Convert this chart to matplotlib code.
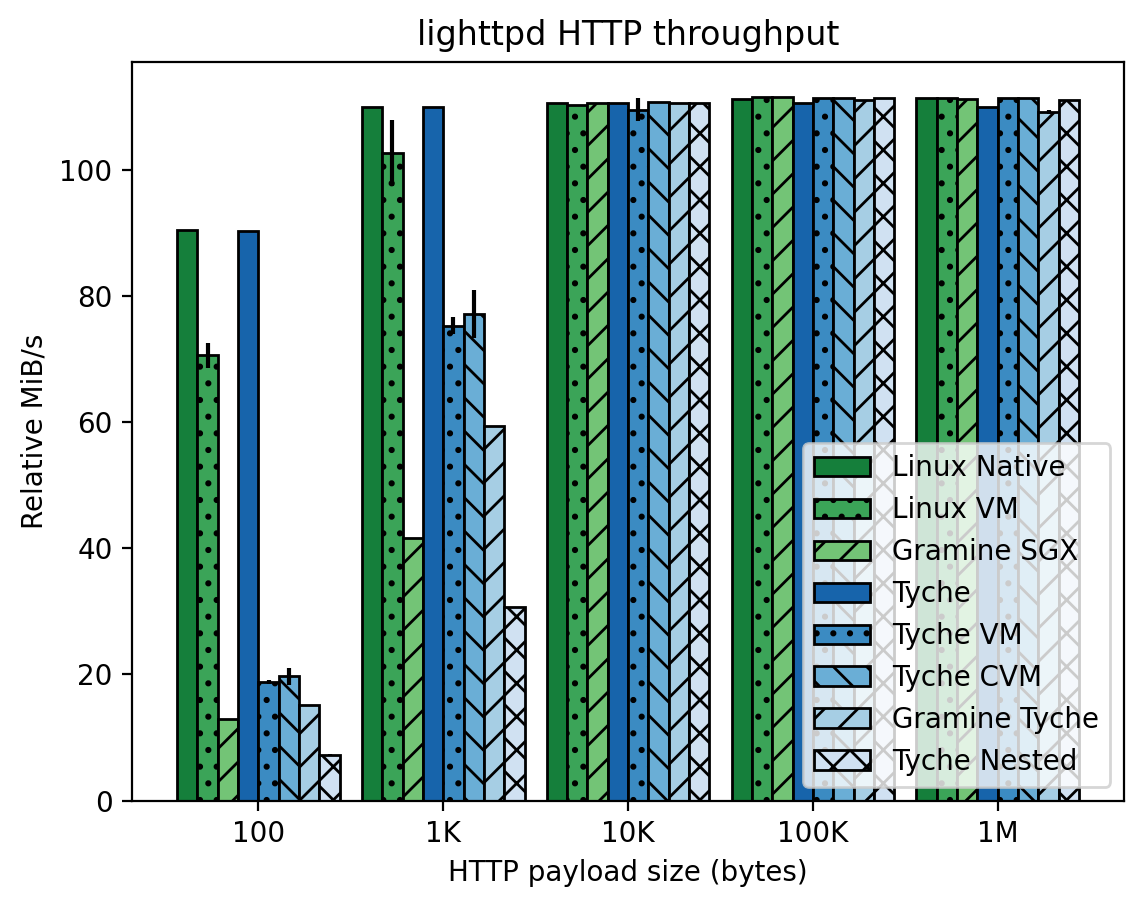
import numpy as np
import matplotlib
matplotlib.use("Agg")
import matplotlib.pyplot as plt
from matplotlib import cm

payload_sizes = ["100", "1K", "10K", "100K", "1M"]
systems = ["Linux Native", "Linux VM", "Gramine SGX", "Tyche",
           "Tyche VM", "Tyche CVM", "Gramine Tyche", "Tyche Nested"]

# MiB/s per system, one value per payload size
linux_native = [90.5, 110.0, 110.6, 111.2, 111.3]
linux_vm = [70.6, 102.7, 110.2, 111.5, 111.3]
gramine_sgx = [13.0, 41.6, 110.6, 111.5, 111.2]
tyche = [90.3, 110.0, 110.6, 110.6, 110.0]
tyche_vm = [18.8, 75.3, 109.5, 111.3, 111.3]
tyche_cvm = [19.7, 77.1, 110.8, 111.3, 111.3]
gramine_tyche = [15.1, 59.4, 110.6, 111.1, 109.2]
tyche_nested = [7.3, 30.7, 110.6, 111.3, 111.0]

# error bar half-heights
linux_native_err = [0.0, 0.0, 0.0, 0.0, 0.0]
linux_vm_err = [2.0, 5.2, 0.0, 0.0, 0.0]
gramine_sgx_err = [0.0, 0.0, 0.0, 0.0, 0.0]
tyche_err = [0.0, 0.0, 0.0, 0.0, 0.0]
tyche_vm_err = [0.3, 1.3, 1.8, 0.0, 0.0]
tyche_cvm_err = [1.3, 3.8, 0.0, 0.0, 0.0]
gramine_tyche_err = [0.0, 0.0, 0.0, 0.0, 0.3]
tyche_nested_err = [0.1, 0.0, 0.0, 0.0, 0.0]

values = [linux_native, linux_vm, gramine_sgx, tyche,
          tyche_vm, tyche_cvm, gramine_tyche, tyche_nested]
errors = [linux_native_err, linux_vm_err, gramine_sgx_err, tyche_err,
          tyche_vm_err, tyche_cvm_err, gramine_tyche_err, tyche_nested_err]

greens = [cm.Greens(v) for v in [0.8, 0.65, 0.5]]
blues = [cm.Blues(v) for v in [0.8, 0.65, 0.5, 0.35, 0.2]]
colors = greens + blues
hatches = [None, "..", "//", None, "..", "\\\\", "//", "xx"]

fig = plt.figure(figsize=(5.715, 4.54), dpi=200)
ax = fig.add_axes([0.1155, 0.1182, 0.868, 0.8135])

x = np.arange(len(payload_sizes))
width = 0.11
for i, name in enumerate(systems):
    ax.bar(x + (i - 3.5) * width, values[i], width, yerr=errors[i],
           color=colors[i], edgecolor="black", linewidth=1,
           hatch=hatches[i], label=name, ecolor="black",
           error_kw=dict(elinewidth=1.5))

ax.set_xticks(x)
ax.set_xticklabels(payload_sizes)
ax.set_xlabel("HTTP payload size (bytes)")
ax.set_ylabel("Relative MiB/s")
ax.set_title("lighttpd HTTP throughput")
ax.legend(loc="lower right")

fig.savefig("out.png", dpi=200)
